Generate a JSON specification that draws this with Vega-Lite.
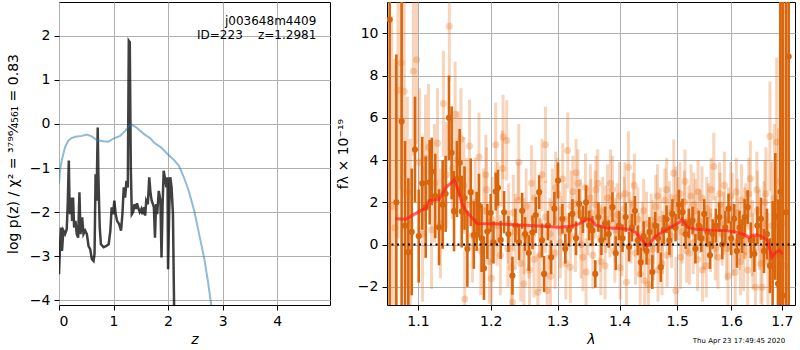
{
"$schema": "https://vega.github.io/schema/vega-lite/v6.json",
"padding": {"left": 5, "top": 1, "right": 0, "bottom": 0},
"spacing": 4,
"config": {
  "font": "DejaVu Sans",
  "view": {"stroke": "black", "strokeWidth": 1},
  "axis": {"grid": true, "gridColor": "#b0b0b0", "gridWidth": 1, "domain": false, "ticks": true, "tickColor": "black", "tickSize": 5, "labelFontSize": 14, "labelFont": "DejaVu Sans", "titleFont": "DejaVu Sans", "titleFontSize": 14, "titleFontWeight": "normal", "labelColor": "black", "titleColor": "black", "labelPadding": 4}
},
"datasets": {
"pz": [
{"z":0,"v":-3.41},{"z":0.018,"v":-2.8},{"z":0.037,"v":-2.35},{"z":0.055,"v":-2.88},{"z":0.08,"v":-2.42},{"z":0.111,"v":-2.5},{"z":0.142,"v":-2.39},{"z":0.16,"v":-1.82},{"z":0.18,"v":-0.83},{"z":0.191,"v":-1.67},{"z":0.203,"v":-2.05},{"z":0.228,"v":-1.67},{"z":0.24,"v":-2.2},{"z":0.258,"v":-1.67},{"z":0.277,"v":-2.35},{"z":0.302,"v":-2.2},{"z":0.326,"v":-2.5},{"z":0.351,"v":-2.58},{"z":0.375,"v":-1.55},{"z":0.394,"v":-2.5},{"z":0.425,"v":-2.12},{"z":0.449,"v":-2.5},{"z":0.48,"v":-2.42},{"z":0.511,"v":-2.5},{"z":0.542,"v":-2.77},{"z":0.572,"v":-2.84},{"z":0.603,"v":-3.07},{"z":0.634,"v":-3.11},{"z":0.652,"v":-2.95},{"z":0.671,"v":-1.14},{"z":0.689,"v":-1.74},{"z":0.71,"v":-0.08},{"z":0.722,"v":-1.14},{"z":0.734,"v":-1.74},{"z":0.747,"v":-2.35},{"z":0.769,"v":-2.73},{"z":0.818,"v":-2.8},{"z":0.868,"v":-2.77},{"z":0.911,"v":-2.73},{"z":0.942,"v":-2.42},{"z":0.966,"v":-1.89},{"z":0.991,"v":-2.05},{"z":1.015,"v":-1.74},{"z":1.04,"v":-2.05},{"z":1.065,"v":-2.2},{"z":1.102,"v":-2.27},{"z":1.138,"v":-2.42},{"z":1.163,"v":-2.05},{"z":1.188,"v":-1.44},{"z":1.212,"v":-1.67},{"z":1.237,"v":-1.29},{"z":1.262,"v":-1.44},{"z":1.28,"v":1.89},{"z":1.298,"v":1.86},{"z":1.317,"v":-0.98},{"z":1.335,"v":-2.05},{"z":1.36,"v":-2.0},{"z":1.385,"v":-1.82},{"z":1.41,"v":-1.93},{"z":1.43,"v":-1.8},{"z":1.46,"v":-1.93},{"z":1.48,"v":-2.0},{"z":1.51,"v":-1.93},{"z":1.53,"v":-2.05},{"z":1.56,"v":-1.89},{"z":1.58,"v":-2.08},{"z":1.6,"v":-1.74},{"z":1.63,"v":-1.82},{"z":1.655,"v":-1.21},{"z":1.68,"v":-1.59},{"z":1.7,"v":-1.74},{"z":1.74,"v":-1.89},{"z":1.76,"v":-2.58},{"z":1.78,"v":-1.82},{"z":1.8,"v":-2.05},{"z":1.83,"v":-1.52},{"z":1.86,"v":-1.74},{"z":1.88,"v":-3.03},{"z":1.9,"v":-1.82},{"z":1.92,"v":-1.06},{"z":1.94,"v":-1.21},{"z":1.97,"v":-1.44},{"z":1.99,"v":-1.21},{"z":2.0,"v":-3.3},{"z":2.02,"v":-2.05},{"z":2.04,"v":-1.21},{"z":2.065,"v":-1.44},{"z":2.09,"v":-2.05},{"z":2.11,"v":-4.09},{"z":2.13,"v":-5.5}
],
"prior": [
{"z":0,"v":-1.35},{"z":0.02,"v":-1.05},{"z":0.05,"v":-0.83},{"z":0.11,"v":-0.53},{"z":0.17,"v":-0.38},{"z":0.23,"v":-0.32},{"z":0.3,"v":-0.29},{"z":0.42,"v":-0.27},{"z":0.51,"v":-0.24},{"z":0.6,"v":-0.28},{"z":0.7,"v":-0.37},{"z":0.82,"v":-0.39},{"z":0.91,"v":-0.4},{"z":1.0,"v":-0.33},{"z":1.12,"v":-0.27},{"z":1.22,"v":-0.15},{"z":1.3,"v":-0.02},{"z":1.34,"v":-0.02},{"z":1.43,"v":-0.09},{"z":1.56,"v":-0.23},{"z":1.68,"v":-0.33},{"z":1.74,"v":-0.42},{"z":1.87,"v":-0.53},{"z":1.99,"v":-0.68},{"z":2.11,"v":-0.82},{"z":2.2,"v":-0.95},{"z":2.29,"v":-1.21},{"z":2.38,"v":-1.52},{"z":2.48,"v":-1.97},{"z":2.57,"v":-2.5},{"z":2.66,"v":-3.03},{"z":2.73,"v":-3.56},{"z":2.79,"v":-4.09},{"z":2.83,"v":-4.5}
],
"dark": [
{"w":1.0634,"f":10.65,"lo":-14.35,"hi":35.65},{"w":1.0719,"f":2.0,"lo":-5,"hi":9},{"w":1.0787,"f":5.83,"lo":-3.17,"hi":14.83},{"w":1.0831,"f":0.9,"lo":-3.1,"hi":4.9},{"w":1.0874,"f":-0.36,"lo":-3.86,"hi":3.14},{"w":1.0918,"f":0.6,"lo":-2.4,"hi":3.6},{"w":1.0961,"f":4.5,"lo":2.0,"hi":7.0},{"w":1.101,"f":0.4,"lo":-1.8,"hi":2.6},{"w":1.1057,"f":2.9,"lo":0.7,"hi":5.1},{"w":1.1102,"f":1.77,"lo":-0.63,"hi":4.17},{"w":1.1155,"f":2.95,"lo":0.95,"hi":4.95},{"w":1.1182,"f":3.46,"lo":1.86,"hi":5.06},{"w":1.123,"f":2.3,"lo":0.3,"hi":4.3},{"w":1.1281,"f":0.82,"lo":-0.98,"hi":2.62},{"w":1.133,"f":1.9,"lo":-0.2,"hi":4.0},{"w":1.137,"f":2.4,"lo":0.6,"hi":4.2},{"w":1.1416,"f":6.0,"lo":4.0,"hi":8.0},{"w":1.1452,"f":4.34,"lo":2.14,"hi":6.54},{"w":1.1485,"f":1.58,"lo":-0.32,"hi":3.48},{"w":1.1525,"f":3.1,"lo":1.3,"hi":4.9},{"w":1.1563,"f":3.87,"lo":2.27,"hi":5.47},{"w":1.1591,"f":1.56,"lo":-0.14,"hi":3.26},{"w":1.163,"f":2.2,"lo":0.7,"hi":3.7},{"w":1.167,"f":-0.2,"lo":-2.0,"hi":1.6},{"w":1.1717,"f":2.48,"lo":0.88,"hi":4.08},{"w":1.176,"f":0.45,"lo":-1.15,"hi":2.05},{"w":1.18,"f":1.1,"lo":-0.3,"hi":2.5},{"w":1.1833,"f":1.85,"lo":0.35,"hi":3.35},{"w":1.187,"f":0.3,"lo":-1.3,"hi":1.9},{"w":1.1904,"f":-1.12,"lo":-2.62,"hi":0.38},{"w":1.1952,"f":0.62,"lo":-0.68,"hi":1.92},
{"w":1.2,"f":1.5,"lo":0.6,"hi":2.4},{"w":1.204,"f":0.1,"lo":-0.9,"hi":1.1},{"w":1.2072,"f":2.51,"lo":1.61,"hi":3.41},{"w":1.2106,"f":2.69,"lo":1.84,"hi":3.54},{"w":1.2145,"f":0.22,"lo":-0.68,"hi":1.12},{"w":1.2194,"f":1.53,"lo":0.53,"hi":2.53},{"w":1.2257,"f":0.5,"lo":-0.35,"hi":1.35},{"w":1.2316,"f":-1.47,"lo":-2.37,"hi":-0.57},{"w":1.236,"f":0.9,"lo":0.1,"hi":1.7},{"w":1.2414,"f":0.11,"lo":-0.74,"hi":0.96},{"w":1.246,"f":1.6,"lo":0.75,"hi":2.45},{"w":1.2504,"f":0.5,"lo":-0.3,"hi":1.3},{"w":1.256,"f":-0.4,"lo":-1.25,"hi":0.45},{"w":1.2615,"f":0.58,"lo":-0.22,"hi":1.38},{"w":1.2665,"f":1.4,"lo":0.55,"hi":2.25},{"w":1.2716,"f":2.48,"lo":1.68,"hi":3.28},{"w":1.276,"f":0.2,"lo":-0.6,"hi":1.0},{"w":1.2792,"f":-1.39,"lo":-2.24,"hi":-0.54},{"w":1.285,"f":0.9,"lo":0.2,"hi":1.6},{"w":1.29,"f":-0.6,"lo":-1.4,"hi":0.2},{"w":1.295,"f":1.7,"lo":0.9,"hi":2.5},{"w":1.3007,"f":3.03,"lo":2.18,"hi":3.88},{"w":1.3075,"f":1.22,"lo":0.52,"hi":1.92},{"w":1.312,"f":-0.2,"lo":-0.9,"hi":0.5},{"w":1.318,"f":0.7,"lo":-0.1,"hi":1.5},{"w":1.3233,"f":1.45,"lo":0.75,"hi":2.15},{"w":1.329,"f":0.3,"lo":-0.5,"hi":1.1},{"w":1.334,"f":1.93,"lo":1.23,"hi":2.63},{"w":1.34,"f":1.2,"lo":0.55,"hi":1.85},{"w":1.345,"f":2.0,"lo":1.2,"hi":2.8},{"w":1.35,"f":0.9,"lo":0.2,"hi":1.6},{"w":1.3553,"f":0.66,"lo":-0.04,"hi":1.36},{"w":1.36,"f":-1.39,"lo":-2.04,"hi":-0.74},{"w":1.365,"f":1.3,"lo":0.6,"hi":2.0},{"w":1.37,"f":0.2,"lo":-0.5,"hi":0.9},{"w":1.376,"f":1.0,"lo":0.2,"hi":1.8},{"w":1.382,"f":0.5,"lo":-0.15,"hi":1.15},{"w":1.3882,"f":1.77,"lo":1.07,"hi":2.47},{"w":1.3937,"f":-0.41,"lo":-1.21,"hi":0.39},{"w":1.399,"f":0.9,"lo":0.2,"hi":1.6},{"w":1.405,"f":0.3,"lo":-0.35,"hi":0.95},{"w":1.4104,"f":1.3,"lo":0.6,"hi":2.0},{"w":1.416,"f":-0.1,"lo":-0.8,"hi":0.6},{"w":1.421,"f":0.8,"lo":0.15,"hi":1.45},{"w":1.426,"f":1.6,"lo":0.9,"hi":2.3},{"w":1.431,"f":0.2,"lo":-0.5,"hi":0.9},{"w":1.436,"f":-0.84,"lo":-1.54,"hi":-0.14},{"w":1.441,"f":0.4,"lo":-0.3,"hi":1.1},{"w":1.446,"f":-0.3,"lo":-0.95,"hi":0.35},{"w":1.451,"f":0.6,"lo":-0.1,"hi":1.3},{"w":1.456,"f":-1.3,"lo":-2.1,"hi":-0.5},{"w":1.461,"f":0.9,"lo":0.25,"hi":1.55},{"w":1.466,"f":0.3,"lo":-0.4,"hi":1.0},{"w":1.4708,"f":-1.07,"lo":-1.77,"hi":-0.37},{"w":1.476,"f":0.7,"lo":0.0,"hi":1.4},{"w":1.481,"f":1.2,"lo":0.55,"hi":1.85},{"w":1.486,"f":0.2,"lo":-0.5,"hi":0.9},{"w":1.4915,"f":1.45,"lo":0.75,"hi":2.15},{"w":1.497,"f":0.8,"lo":0.15,"hi":1.45},{"w":1.503,"f":1.9,"lo":1.2,"hi":2.6},{"w":1.5096,"f":1.53,"lo":0.88,"hi":2.18},{"w":1.515,"f":0.5,"lo":-0.2,"hi":1.2},{"w":1.521,"f":1.0,"lo":0.3,"hi":1.7},{"w":1.5278,"f":1.14,"lo":0.49,"hi":1.79},{"w":1.533,"f":-0.2,"lo":-0.9,"hi":0.5},{"w":1.539,"f":0.9,"lo":0.2,"hi":1.6},{"w":1.544,"f":0.3,"lo":-0.35,"hi":0.95},{"w":1.5493,"f":1.45,"lo":0.75,"hi":2.15},{"w":1.555,"f":0.6,"lo":-0.1,"hi":1.3},{"w":1.56,"f":-0.5,"lo":-1.15,"hi":0.15},{"w":1.565,"f":0.5,"lo":-0.2,"hi":1.2},{"w":1.571,"f":0.9,"lo":0.1,"hi":1.7},{"w":1.5775,"f":1.3,"lo":0.6,"hi":2.0},{"w":1.583,"f":0.0,"lo":-0.7,"hi":0.7},{"w":1.589,"f":0.8,"lo":0.0,"hi":1.6},{"w":1.595,"f":1.7,"lo":1.0,"hi":2.4},{"w":1.6,"f":0.3,"lo":-0.5,"hi":1.1},{"w":1.6058,"f":1.22,"lo":0.52,"hi":1.92},{"w":1.611,"f":-0.3,"lo":-1.1,"hi":0.5},{"w":1.616,"f":0.8,"lo":0.0,"hi":1.6},{"w":1.621,"f":0.4,"lo":-0.4,"hi":1.2},{"w":1.626,"f":1.3,"lo":0.45,"hi":2.15},{"w":1.6319,"f":1.77,"lo":0.97,"hi":2.57},{"w":1.638,"f":0.2,"lo":-0.65,"hi":1.05},{"w":1.645,"f":-0.44,"lo":-1.29,"hi":0.41},{"w":1.651,"f":0.9,"lo":0.0,"hi":1.8},{"w":1.6582,"f":1.22,"lo":0.22,"hi":2.22},{"w":1.664,"f":-0.3,"lo":-1.35,"hi":0.75},{"w":1.67,"f":0.5,"lo":-0.7,"hi":1.7},{"w":1.676,"f":-1.0,"lo":-2.3,"hi":0.3},{"w":1.6814,"f":-0.44,"lo":-2.94,"hi":2.06},{"w":1.6868,"f":1.33,"lo":-1.67,"hi":4.33},{"w":1.6922,"f":-1.86,"lo":-5.86,"hi":2.14},{"w":1.697,"f":2.5,"lo":-12.5,"hi":17.5},{"w":1.7017,"f":-2.42,"lo":-22.42,"hi":17.58},{"w":1.7085,"f":1.53,"lo":-18.47,"hi":21.53},{"w":1.714,"f":8.9,"lo":-16.1,"hi":33.9}
],
"light": [
{"w":1.066,"f":1.8,"lo":-7.2,"hi":10.8},{"w":1.07,"f":0.8,"lo":-7.2,"hi":8.8},{"w":1.074,"f":7.3,"lo":0.3,"hi":14.3},{"w":1.078,"f":8.6,"lo":2.6,"hi":14.6},{"w":1.082,"f":7.25,"lo":2.25,"hi":12.25},{"w":1.086,"f":2.5,"lo":-2.0,"hi":7.0},{"w":1.09,"f":1.0,"lo":-3.0,"hi":5.0},{"w":1.094,"f":8.2,"lo":4.2,"hi":12.2},{"w":1.098,"f":8.75,"lo":4.75,"hi":12.75},{"w":1.102,"f":3.9,"lo":0.4,"hi":7.4},{"w":1.106,"f":0.5,"lo":-2.7,"hi":3.7},{"w":1.11,"f":4.1,"lo":1.1,"hi":7.1},{"w":1.114,"f":4.6,"lo":1.6,"hi":7.6},{"w":1.118,"f":0.7,"lo":-2.1,"hi":3.5},{"w":1.122,"f":2.9,"lo":0.1,"hi":5.7},{"w":1.126,"f":4.8,"lo":2.2,"hi":7.4},{"w":1.13,"f":1.0,"lo":-1.6,"hi":3.6},{"w":1.134,"f":6.67,"lo":4.17,"hi":9.17},{"w":1.138,"f":3.3,"lo":0.8,"hi":5.8},{"w":1.142,"f":10.33,"lo":7.73,"hi":12.93},{"w":1.146,"f":3.6,"lo":1.2,"hi":6.0},{"w":1.15,"f":6.16,"lo":3.66,"hi":8.66},{"w":1.154,"f":4.0,"lo":1.7,"hi":6.3},{"w":1.158,"f":5.0,"lo":2.6,"hi":7.4},{"w":1.162,"f":2.8,"lo":0.5,"hi":5.1},{"w":1.1633,"f":-2.58,"lo":-4.88,"hi":-0.28},{"w":1.166,"f":1.9,"lo":-0.3,"hi":4.1},{"w":1.17,"f":4.66,"lo":2.46,"hi":6.86},{"w":1.174,"f":0.4,"lo":-1.8,"hi":2.6},{"w":1.178,"f":2.0,"lo":-0.1,"hi":4.1},{"w":1.1833,"f":4.14,"lo":2.04,"hi":6.24},{"w":1.186,"f":-0.3,"lo":-2.4,"hi":1.8},{"w":1.19,"f":1.6,"lo":-0.4,"hi":3.6},{"w":1.194,"f":2.6,"lo":0.6,"hi":4.6},{"w":1.198,"f":-0.8,"lo":-2.8,"hi":1.2},{"w":1.202,"f":1.2,"lo":-0.8,"hi":3.2},{"w":1.2072,"f":4.72,"lo":2.72,"hi":6.72},{"w":1.21,"f":1.9,"lo":-0.1,"hi":3.9},{"w":1.214,"f":-0.5,"lo":-2.4,"hi":1.4},{"w":1.2179,"f":5.09,"lo":3.09,"hi":7.09},{"w":1.2232,"f":4.93,"lo":3.03,"hi":6.83},{"w":1.226,"f":1.0,"lo":-0.9,"hi":2.9},{"w":1.23,"f":-1.1,"lo":-3.0,"hi":0.8},{"w":1.2316,"f":-2.73,"lo":-4.63,"hi":-0.83},{"w":1.236,"f":0.6,"lo":-1.2,"hi":2.4},{"w":1.24,"f":2.1,"lo":0.3,"hi":3.9},{"w":1.244,"f":-0.9,"lo":-2.7,"hi":0.9},{"w":1.2486,"f":-1.86,"lo":-3.66,"hi":-0.06},{"w":1.252,"f":1.8,"lo":0.0,"hi":3.6},{"w":1.256,"f":0.2,"lo":-1.6,"hi":2.0},{"w":1.26,"f":2.9,"lo":1.1,"hi":4.7},{"w":1.264,"f":-0.7,"lo":-2.5,"hi":1.1},{"w":1.2696,"f":-2.26,"lo":-4.06,"hi":-0.46},{"w":1.272,"f":1.1,"lo":-0.6,"hi":2.8},{"w":1.276,"f":3.3,"lo":1.6,"hi":5.0},{"w":1.2812,"f":4.72,"lo":2.92,"hi":6.52},{"w":1.284,"f":-2.18,"lo":-3.88,"hi":-0.48},{"w":1.288,"f":0.5,"lo":-1.2,"hi":2.2},{"w":1.292,"f":1.9,"lo":0.2,"hi":3.6},{"w":1.296,"f":-0.4,"lo":-2.1,"hi":1.3},{"w":1.3,"f":2.4,"lo":0.7,"hi":4.1},{"w":1.304,"f":0.1,"lo":-1.6,"hi":1.8},{"w":1.308,"f":3.1,"lo":1.4,"hi":4.8},{"w":1.312,"f":1.2,"lo":-0.5,"hi":2.9},{"w":1.3158,"f":4.45,"lo":2.65,"hi":6.25},{"w":1.32,"f":-1.07,"lo":-2.77,"hi":0.63},{"w":1.324,"f":2.5,"lo":0.8,"hi":4.2},{"w":1.328,"f":0.4,"lo":-1.3,"hi":2.1},{"w":1.332,"f":2.9,"lo":1.3,"hi":4.5},{"w":1.336,"f":1.5,"lo":-0.1,"hi":3.1},{"w":1.34,"f":-0.6,"lo":-2.2,"hi":1.0},{"w":1.344,"f":2.7,"lo":1.1,"hi":4.3},{"w":1.348,"f":1.1,"lo":-0.5,"hi":2.7},{"w":1.352,"f":2.2,"lo":0.6,"hi":3.8},{"w":1.356,"f":-0.5,"lo":-2.1,"hi":1.1},{"w":1.36,"f":1.9,"lo":0.3,"hi":3.5},{"w":1.364,"f":2.9,"lo":1.3,"hi":4.5},{"w":1.368,"f":0.3,"lo":-1.3,"hi":1.9},{"w":1.372,"f":1.6,"lo":0.0,"hi":3.2},{"w":1.376,"f":-1.0,"lo":-2.6,"hi":0.6},{"w":1.38,"f":2.2,"lo":0.6,"hi":3.8},{"w":1.384,"f":0.9,"lo":-0.6,"hi":2.4},{"w":1.388,"f":2.6,"lo":1.0,"hi":4.2},{"w":1.392,"f":-0.3,"lo":-1.8,"hi":1.2},{"w":1.396,"f":1.4,"lo":-0.1,"hi":2.9},{"w":1.4,"f":2.3,"lo":0.7,"hi":3.9},{"w":1.404,"f":0.0,"lo":-1.5,"hi":1.5},{"w":1.408,"f":1.7,"lo":0.2,"hi":3.2},{"w":1.4116,"f":-1.78,"lo":-3.38,"hi":-0.18},{"w":1.415,"f":3.66,"lo":1.96,"hi":5.36},{"w":1.419,"f":0.6,"lo":-0.9,"hi":2.1},{"w":1.423,"f":1.9,"lo":0.4,"hi":3.4},{"w":1.427,"f":-0.4,"lo":-1.9,"hi":1.1},{"w":1.431,"f":1.2,"lo":-0.3,"hi":2.7},{"w":1.435,"f":-1.4,"lo":-2.9,"hi":0.1},{"w":1.439,"f":0.5,"lo":-1.0,"hi":2.0},{"w":1.4427,"f":-1.71,"lo":-3.21,"hi":-0.21},{"w":1.446,"f":1.0,"lo":-0.5,"hi":2.5},{"w":1.45,"f":-0.8,"lo":-2.3,"hi":0.7},{"w":1.454,"f":0.9,"lo":-0.6,"hi":2.4},{"w":1.458,"f":-0.2,"lo":-1.7,"hi":1.3},{"w":1.462,"f":1.8,"lo":0.3,"hi":3.3},{"w":1.466,"f":-1.2,"lo":-2.7,"hi":0.3},{"w":1.47,"f":1.2,"lo":-0.3,"hi":2.7},{"w":1.474,"f":0.1,"lo":-1.4,"hi":1.6},{"w":1.478,"f":2.1,"lo":0.6,"hi":3.6},{"w":1.482,"f":-0.5,"lo":-2.0,"hi":1.0},{"w":1.486,"f":1.5,"lo":0.0,"hi":3.0},{"w":1.49,"f":0.4,"lo":-1.1,"hi":1.9},{"w":1.4938,"f":3.38,"lo":1.78,"hi":4.98},{"w":1.4975,"f":-2.18,"lo":-3.78,"hi":-0.58},{"w":1.501,"f":1.7,"lo":0.2,"hi":3.2},{"w":1.505,"f":2.4,"lo":0.9,"hi":3.9},{"w":1.509,"f":0.6,"lo":-0.9,"hi":2.1},{"w":1.513,"f":2.0,"lo":0.5,"hi":3.5},{"w":1.517,"f":-0.3,"lo":-1.8,"hi":1.2},{"w":1.521,"f":1.3,"lo":-0.2,"hi":2.8},{"w":1.525,"f":2.3,"lo":0.8,"hi":3.8},{"w":1.529,"f":0.1,"lo":-1.4,"hi":1.6},{"w":1.533,"f":1.6,"lo":0.1,"hi":3.1},{"w":1.537,"f":-0.7,"lo":-2.2,"hi":0.8},{"w":1.541,"f":1.1,"lo":-0.4,"hi":2.6},{"w":1.545,"f":2.2,"lo":0.7,"hi":3.7},{"w":1.549,"f":0.3,"lo":-1.2,"hi":1.8},{"w":1.553,"f":-1.0,"lo":-2.5,"hi":0.5},{"w":1.557,"f":1.4,"lo":-0.1,"hi":2.9},{"w":1.561,"f":0.2,"lo":-1.3,"hi":1.7},{"w":1.5671,"f":3.7,"lo":2.1,"hi":5.3},{"w":1.571,"f":0.8,"lo":-0.7,"hi":2.3},{"w":1.575,"f":-0.6,"lo":-2.1,"hi":0.9},{"w":1.579,"f":1.9,"lo":0.4,"hi":3.4},{"w":1.583,"f":0.5,"lo":-1.0,"hi":2.0},{"w":1.5871,"f":2.8,"lo":1.2,"hi":4.4},{"w":1.591,"f":-0.2,"lo":-1.7,"hi":1.3},{"w":1.595,"f":1.2,"lo":-0.3,"hi":2.7},{"w":1.599,"f":2.3,"lo":0.7,"hi":3.9},{"w":1.603,"f":0.1,"lo":-1.5,"hi":1.7},{"w":1.6078,"f":-1.31,"lo":-2.91,"hi":0.29},{"w":1.612,"f":1.5,"lo":-0.1,"hi":3.1},{"w":1.616,"f":0.4,"lo":-1.2,"hi":2.0},{"w":1.62,"f":2.1,"lo":0.4,"hi":3.8},{"w":1.624,"f":-0.5,"lo":-2.2,"hi":1.2},{"w":1.628,"f":1.2,"lo":-0.5,"hi":2.9},{"w":1.632,"f":-1.2,"lo":-2.9,"hi":0.5},{"w":1.6373,"f":3.11,"lo":1.31,"hi":4.91},{"w":1.641,"f":0.3,"lo":-1.5,"hi":2.1},{"w":1.6472,"f":-2.02,"lo":-3.82,"hi":-0.22},{"w":1.651,"f":1.6,"lo":-0.3,"hi":3.5},{"w":1.655,"f":0.7,"lo":-1.2,"hi":2.6},{"w":1.6604,"f":-2.02,"lo":-4.02,"hi":-0.02},{"w":1.664,"f":1.0,"lo":-1.0,"hi":3.0},{"w":1.668,"f":2.4,"lo":0.2,"hi":4.6},{"w":1.672,"f":-0.8,"lo":-3.1,"hi":1.5},{"w":1.6759,"f":5.12,"lo":2.52,"hi":7.72},{"w":1.68,"f":0.9,"lo":-2.1,"hi":3.9},{"w":1.685,"f":2.2,"lo":-1.3,"hi":5.7},{"w":1.6896,"f":4.85,"lo":0.85,"hi":8.85},{"w":1.693,"f":-0.5,"lo":-6.5,"hi":5.5},{"w":1.697,"f":3.0,"lo":-6.0,"hi":12.0},{"w":1.701,"f":1.0,"lo":-11.0,"hi":13.0},{"w":1.705,"f":-1.0,"lo":-16.0,"hi":14.0},
{"w":1.193,"f":3.3,"lo":1.4,"hi":5.2},{"w":1.201,"f":-1.6,"lo":-3.5,"hi":0.3},{"w":1.209,"f":0.9,"lo":-1.0,"hi":2.8},{"w":1.217,"f":3.6,"lo":1.8,"hi":5.4},{"w":1.225,"f":-0.2,"lo":-2.0,"hi":1.6},{"w":1.233,"f":1.5,"lo":-0.3,"hi":3.3},{"w":1.241,"f":3.9,"lo":2.1,"hi":5.7},{"w":1.249,"f":0.4,"lo":-1.4,"hi":2.2},{"w":1.257,"f":-1.2,"lo":-3.0,"hi":0.6},{"w":1.265,"f":2.2,"lo":0.4,"hi":4.0},{"w":1.273,"f":-0.5,"lo":-2.2,"hi":1.2},{"w":1.281,"f":1.3,"lo":-0.4,"hi":3.0},{"w":1.289,"f":-1.5,"lo":-3.2,"hi":0.2},{"w":1.297,"f":2.7,"lo":1.0,"hi":4.4},{"w":1.305,"f":0.6,"lo":-1.1,"hi":2.3},{"w":1.313,"f":-0.9,"lo":-2.6,"hi":0.8},{"w":1.321,"f":1.8,"lo":0.1,"hi":3.5},{"w":1.329,"f":3.4,"lo":1.8,"hi":5.0},{"w":1.337,"f":0.0,"lo":-1.6,"hi":1.6},{"w":1.345,"f":-1.3,"lo":-2.9,"hi":0.3},{"w":1.353,"f":1.5,"lo":-0.1,"hi":3.1},{"w":1.361,"f":2.6,"lo":1.0,"hi":4.2},{"w":1.369,"f":-0.8,"lo":-2.4,"hi":0.8},{"w":1.377,"f":1.2,"lo":-0.4,"hi":2.8},{"w":1.385,"f":2.9,"lo":1.3,"hi":4.5},{"w":1.393,"f":0.7,"lo":-0.8,"hi":2.2},{"w":1.401,"f":-1.1,"lo":-2.6,"hi":0.4},{"w":1.409,"f":2.4,"lo":0.9,"hi":3.9},{"w":1.417,"f":1.0,"lo":-0.5,"hi":2.5},{"w":1.425,"f":2.8,"lo":1.3,"hi":4.3},{"w":1.433,"f":0.0,"lo":-1.5,"hi":1.5},{"w":1.441,"f":1.6,"lo":0.1,"hi":3.1},{"w":1.449,"f":-1.9,"lo":-3.4,"hi":-0.4},{"w":1.457,"f":0.6,"lo":-0.9,"hi":2.1},{"w":1.465,"f":2.3,"lo":0.8,"hi":3.8},{"w":1.473,"f":-0.9,"lo":-2.4,"hi":0.6},{"w":1.481,"f":2.6,"lo":1.1,"hi":4.1},{"w":1.489,"f":0.9,"lo":-0.6,"hi":2.4},{"w":1.497,"f":2.2,"lo":0.7,"hi":3.7},{"w":1.506,"f":-0.6,"lo":-2.1,"hi":0.9},{"w":1.514,"f":3.0,"lo":1.5,"hi":4.5},{"w":1.522,"f":-0.4,"lo":-1.9,"hi":1.1},{"w":1.53,"f":1.9,"lo":0.4,"hi":3.4},{"w":1.538,"f":2.5,"lo":1.0,"hi":4.0},{"w":1.546,"f":-1.2,"lo":-2.7,"hi":0.3},{"w":1.554,"f":1.7,"lo":0.2,"hi":3.2},{"w":1.562,"f":2.6,"lo":1.1,"hi":4.1},{"w":1.57,"f":-0.2,"lo":-1.7,"hi":1.3},{"w":1.578,"f":2.4,"lo":0.9,"hi":3.9},{"w":1.586,"f":1.0,"lo":-0.5,"hi":2.5},{"w":1.594,"f":-1.5,"lo":-3.1,"hi":0.1},{"w":1.602,"f":1.8,"lo":0.2,"hi":3.4},{"w":1.61,"f":2.5,"lo":0.9,"hi":4.1},{"w":1.618,"f":-0.8,"lo":-2.4,"hi":0.8},{"w":1.626,"f":1.0,"lo":-0.7,"hi":2.7},{"w":1.634,"f":2.4,"lo":0.7,"hi":4.1},{"w":1.642,"f":-0.3,"lo":-2.1,"hi":1.5},{"w":1.65,"f":2.6,"lo":0.8,"hi":4.4},{"w":1.658,"f":-0.9,"lo":-2.8,"hi":1.0},{"w":1.666,"f":2.0,"lo":0.0,"hi":4.0}
],
"model": [
{"w":1.071,"f":1.22},{"w":1.0839,"f":1.2},{"w":1.0927,"f":1.38},{"w":1.1058,"f":1.65},{"w":1.1102,"f":1.7},{"w":1.1146,"f":2.08},{"w":1.128,"f":2.13},{"w":1.1371,"f":2.7},{"w":1.1439,"f":2.9},{"w":1.1484,"f":3.05},{"w":1.1531,"f":2.7},{"w":1.16,"f":1.9},{"w":1.167,"f":1.5},{"w":1.174,"f":1.26},{"w":1.1811,"f":0.98},{"w":1.2025,"f":0.98},{"w":1.2513,"f":0.92},{"w":1.3023,"f":0.82},{"w":1.3179,"f":0.85},{"w":1.3338,"f":0.98},{"w":1.3473,"f":1.2},{"w":1.3526,"f":1.2},{"w":1.3607,"f":0.92},{"w":1.3771,"f":0.8},{"w":1.3992,"f":0.76},{"w":1.416,"f":0.73},{"w":1.4275,"f":0.57},{"w":1.4359,"f":0.3},{"w":1.4459,"f":-0.06},{"w":1.4504,"f":0.0},{"w":1.459,"f":0.33},{"w":1.4678,"f":0.5},{"w":1.4854,"f":0.77},{"w":1.5034,"f":1.04},{"w":1.5082,"f":1.2},{"w":1.5185,"f":0.82},{"w":1.5337,"f":0.73},{"w":1.5583,"f":0.69},{"w":1.5897,"f":0.66},{"w":1.6089,"f":0.6},{"w":1.6218,"f":0.5},{"w":1.6347,"f":0.32},{"w":1.6413,"f":0.43},{"w":1.6512,"f":0.46},{"w":1.6612,"f":0.35},{"w":1.6712,"f":0.2},{"w":1.6798,"f":-0.6},{"w":1.6879,"f":-0.36},{"w":1.696,"f":-0.28},{"w":1.7015,"f":-0.47}
]
},
"hconcat": [
{
 "width": 271, "height": 303,
 "layer": [
  {"data": {"name": "pz"},
   "mark": {"type": "line", "color": "black", "opacity": 0.75, "strokeWidth": 2.5, "clip": true},
   "encoding": {
    "x": {"field": "z", "type": "quantitative", "scale": {"domain": [0, 4.97], "nice": false, "zero": false}, "axis": {"values": [0,1,2,3,4], "title": "z", "titleFontStyle": "italic"}},
    "y": {"field": "v", "type": "quantitative", "scale": {"domain": [-4.11, 2.77], "nice": false, "zero": false}, "axis": {"values": [-4,-3,-2,-1,0,1,2], "title": "log p(z) / χ² = ³⁷⁹⁶⁄₄₅₆₁ = 0.83", "titlePadding": 9}}
   }},
  {"data": {"name": "prior"},
   "mark": {"type": "line", "color": "#1f77b4", "opacity": 0.5, "strokeWidth": 2, "clip": true},
   "encoding": {"x": {"field": "z", "type": "quantitative"}, "y": {"field": "v", "type": "quantitative"}}},
  {"data": {"values": [{"z": 4.72, "v": 2.34, "t": "j003648m4409"}, {"z": 4.72, "v": 2.01, "t": "ID=223\u00a0\u00a0\u00a0\u00a0z=1.2981"}]},
   "mark": {"type": "text", "align": "right", "baseline": "middle", "fontSize": 12, "color": "black"},
   "encoding": {"x": {"field": "z", "type": "quantitative"}, "y": {"field": "v", "type": "quantitative"}, "text": {"field": "t"}}}
 ]
},
{
 "width": 408, "height": 303,
 "layer": [
  {"data": {"name": "light"},
   "mark": {"type": "rule", "color": "#e8711a", "opacity": 0.3, "strokeWidth": 3, "clip": true},
   "encoding": {
    "x": {"field": "w", "type": "quantitative", "scale": {"type": "log", "domain": [1.06, 1.727], "nice": false}, "axis": {"values": [1.1,1.2,1.3,1.4,1.5,1.6,1.7], "format": ".1f", "title": "λ", "titleFontStyle": "italic"}},
    "y": {"field": "lo", "type": "quantitative", "scale": {"domain": [-2.86, 11.48], "nice": false, "zero": false}, "axis": {"values": [-2,0,2,4,6,8,10], "title": "fλ × 10⁻¹⁹", "titlePadding": 7}},
    "y2": {"field": "hi"}
   }},
  {"data": {"name": "light"},
   "mark": {"type": "circle", "color": "#e8711a", "opacity": 0.3, "size": 50, "clip": true},
   "encoding": {"x": {"field": "w", "type": "quantitative"}, "y": {"field": "f", "type": "quantitative", "title": "fλ × 10⁻¹⁹"}}},
  {"data": {"name": "dark"},
   "mark": {"type": "rule", "color": "#d9660c", "strokeWidth": 2.6, "clip": true},
   "encoding": {"x": {"field": "w", "type": "quantitative"}, "y": {"field": "lo", "type": "quantitative", "title": "fλ × 10⁻¹⁹"}, "y2": {"field": "hi"}}},
  {"data": {"name": "dark"},
   "mark": {"type": "circle", "color": "#d9660c", "opacity": 1, "size": 38, "clip": true},
   "encoding": {"x": {"field": "w", "type": "quantitative"}, "y": {"field": "f", "type": "quantitative", "title": "fλ × 10⁻¹⁹"}}},
  {"data": {"name": "model"},
   "mark": {"type": "line", "color": "#ff2020", "opacity": 0.7, "strokeWidth": 3, "clip": true},
   "encoding": {"x": {"field": "w", "type": "quantitative"}, "y": {"field": "f", "type": "quantitative", "title": "fλ × 10⁻¹⁹"}}},
  {"data": {"values": [{"f": 0}]},
   "mark": {"type": "rule", "color": "black", "strokeDash": [2, 3.5], "strokeWidth": 2},
   "encoding": {"y": {"field": "f", "type": "quantitative", "title": "fλ × 10⁻¹⁹"}}},
  {"data": {"values": [{"w": 1.615, "f": -4.55, "t": "Thu Apr 23 17:49:45 2020"}]},
   "mark": {"type": "text", "fontSize": 7, "color": "black", "baseline": "middle", "clip": false},
   "encoding": {"x": {"field": "w", "type": "quantitative"}, "y": {"field": "f", "type": "quantitative", "title": "fλ × 10⁻¹⁹"}, "text": {"field": "t"}}}
 ]
}
]
}
